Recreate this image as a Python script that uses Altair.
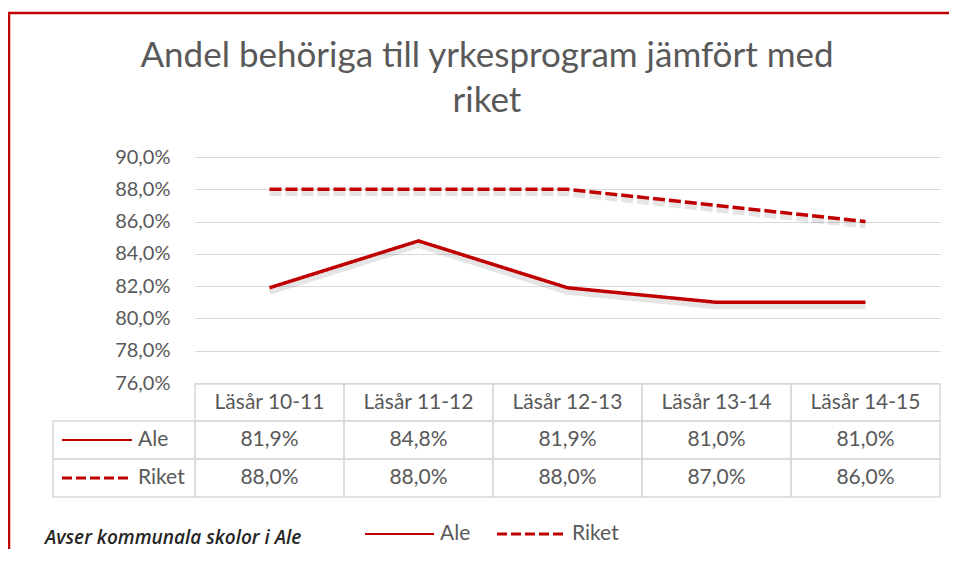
import altair as alt
import pandas as pd

# ---- data ----
categories = ["Läsår 10-11", "Läsår 11-12", "Läsår 12-13", "Läsår 13-14", "Läsår 14-15"]
series_names = ["Ale", "Riket"]
ale = [81.9, 84.8, 81.9, 81.0, 81.0]
riket = [88.0, 88.0, 88.0, 87.0, 86.0]
y_ticks = [76, 78, 80, 82, 84, 86, 88, 90]
title_line1 = "Andel behöriga till  yrkesprogram jämfört med"
title_line2 = "riket"
note = "Avser kommunala skolor i Ale"

rows = []
for s, vals in zip(series_names, [ale, riket]):
    for c, v in zip(categories, vals):
        rows.append({"category": c, "serie": s, "value": v})
df = pd.DataFrame(rows)
cat_df = pd.DataFrame({"category": categories})
one = pd.DataFrame({"k": [0]})

RED = "#c00000"
GRID = "#d9d9d9"
TXT = "#595959"
FONT = "Lato"
W, H = 745, 226
PAD_R = 9
TFS = 21  # table font size
LABEL_EXPR = "replace(format(datum.value, '.1f'), '.', ',') + '%'"

xenc = alt.X("category:N", sort=categories,
             scale=alt.Scale(type="band", paddingInner=0, paddingOuter=0),
             axis=None)
yenc = alt.Y("value:Q",
             scale=alt.Scale(domain=[76, 90], nice=False, zero=False),
             axis=alt.Axis(values=y_ticks, labelExpr=LABEL_EXPR, domain=False,
                           ticks=False, labelPadding=25, labelFontSize=20,
                           labelColor=TXT, labelFont=FONT, gridColor=GRID,
                           gridWidth=1, title=None))
dash_scale = alt.Scale(domain=series_names, range=[[1, 0], [12, 4]])

base = alt.Chart(df)
shadow = base.mark_line(color="#000000", opacity=0.10, strokeWidth=6, yOffset=4).encode(
    x=xenc, y=yenc, strokeDash=alt.StrokeDash("serie:N", scale=dash_scale, legend=None))
lines = base.mark_line(color=RED, strokeWidth=3.5).encode(
    x=xenc, y=yenc, strokeDash=alt.StrokeDash("serie:N", scale=dash_scale, legend=None))

# ---- table ----
row_bounds = [(227, 264), (264, 302), (302, 340)]
layers = [shadow, lines]

hdr = alt.Chart(cat_df)
layers.append(hdr.mark_rect(fillOpacity=0, stroke=GRID, strokeWidth=1.5).encode(
    x=xenc, y=alt.value(row_bounds[0][0]), y2=alt.value(row_bounds[0][1])))
layers.append(hdr.mark_text(font=FONT, fontSize=TFS, color=TXT, baseline="middle").encode(
    x=xenc, y=alt.value(sum(row_bounds[0]) / 2), text="category:N"))

key_dash = {"Ale": [1, 0], "Riket": [10, 4]}
key_width = {"Ale": 2, "Riket": 3}
for i, s in enumerate(series_names):
    top, bot = row_bounds[i + 1]
    mid = (top + bot) / 2
    sub = base.transform_filter(f"datum.serie == '{s}'")
    layers.append(sub.mark_rect(fillOpacity=0, stroke=GRID, strokeWidth=1.5).encode(
        x=xenc, y=alt.value(top), y2=alt.value(bot)))
    layers.append(sub.transform_calculate(label=LABEL_EXPR)
                  .mark_text(font=FONT, fontSize=TFS, color=TXT, baseline="middle")
                  .encode(x=xenc, y=alt.value(mid), text="label:N"))
    o = alt.Chart(one)
    layers.append(o.mark_rect(fillOpacity=0, stroke=GRID, strokeWidth=1.5).encode(
        x=alt.value(-142), x2=alt.value(0), y=alt.value(top), y2=alt.value(bot)))
    layers.append(o.mark_rule(color=RED, strokeWidth=key_width[s], strokeDash=key_dash[s]).encode(
        x=alt.value(-133), x2=alt.value(-63), y=alt.value(mid)))
    layers.append(o.mark_text(text=s, font=FONT, fontSize=TFS, color=TXT, align="left",
                              baseline="middle").encode(x=alt.value(-57), y=alt.value(mid)))

# ---- footer: note + legend ----
o = alt.Chart(one)
layers.append(o.mark_text(text=note, font="Open Sans", fontSize=19, fontStyle="italic",
                          fontWeight=600, color="#262626", align="left",
                          baseline="middle").encode(x=alt.value(-150), y=alt.value(381)))
leg_x = {"Ale": (170, 239, 245), "Riket": (302, 370, 377)}
for s in series_names:
    x0, x1, xt = leg_x[s]
    layers.append(o.mark_rule(color=RED, strokeWidth=key_width[s], strokeDash=key_dash[s]).encode(
        x=alt.value(x0), x2=alt.value(x1), y=alt.value(377)))
    layers.append(o.mark_text(text=s, font=FONT, fontSize=TFS, color=TXT, align="left",
                              baseline="middle").encode(x=alt.value(xt), y=alt.value(377)))

# ---- title ----
layers.append(o.mark_text(text=title_line1, font=FONT, fontSize=35, color=TXT,
                          align="center", baseline="alphabetic").encode(
    x=alt.value(292), y=alt.value(-90)))
layers.append(o.mark_text(text=title_line2, font=FONT, fontSize=35, color=TXT,
                          align="center", baseline="alphabetic").encode(
    x=alt.value(292), y=alt.value(-45)))

# ---- outer border (top + left) ----
layers.append(o.mark_rule(color=RED, strokeWidth=2.5).encode(
    x=alt.value(-187), x2=alt.value(W + PAD_R), y=alt.value(-144)))
layers.append(o.mark_rule(color=RED, strokeWidth=2.5).encode(
    x=alt.value(-186), y=alt.value(-144), y2=alt.value(H + 166)))

chart = alt.layer(*layers).properties(
    width=W, height=H,
    autosize=alt.AutoSizeParams(type="none"),
    padding={"left": 187, "top": 149, "right": PAD_R, "bottom": 166},
    background="white",
).configure_view(stroke=None)

chart.save("out.html", embed_options={"renderer": "svg", "actions": False})
